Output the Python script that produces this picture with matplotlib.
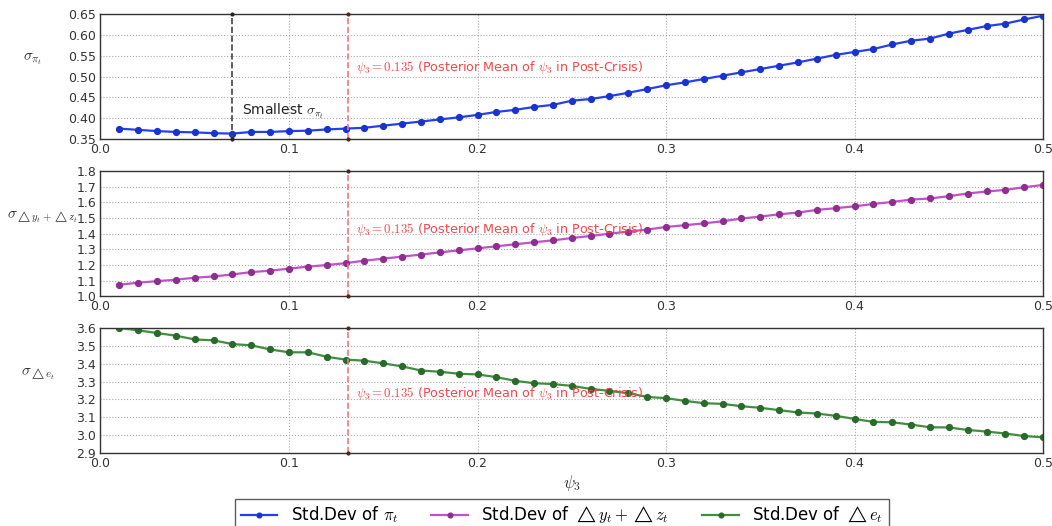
import numpy as np
import matplotlib
matplotlib.use('Agg')
import matplotlib.pyplot as plt

plt.rcParams['mathtext.fontset'] = 'cm'
plt.rcParams['font.family'] = 'DejaVu Sans'

# grid of psi_3 values
psi3 = np.round(np.arange(1, 51) * 0.01, 2)

# std dev of inflation
sd_pi = [0.375, 0.372, 0.369, 0.367, 0.366, 0.364, 0.363, 0.367, 0.367, 0.369,
         0.370, 0.373, 0.375, 0.377, 0.382, 0.387, 0.392, 0.397, 0.402, 0.408,
         0.415, 0.420, 0.427, 0.432, 0.442, 0.446, 0.453, 0.461, 0.470, 0.479,
         0.486, 0.494, 0.502, 0.510, 0.518, 0.526, 0.534, 0.543, 0.552, 0.559,
         0.566, 0.577, 0.586, 0.591, 0.603, 0.612, 0.621, 0.627, 0.637, 0.646]

# std dev of output growth + z growth
sd_yz = [1.073, 1.086, 1.096, 1.105, 1.118, 1.126, 1.139, 1.154, 1.163, 1.176,
         1.189, 1.199, 1.211, 1.227, 1.240, 1.253, 1.266, 1.280, 1.293, 1.306,
         1.319, 1.332, 1.345, 1.357, 1.372, 1.385, 1.400, 1.413, 1.426, 1.443,
         1.454, 1.466, 1.479, 1.497, 1.509, 1.524, 1.535, 1.552, 1.563, 1.575,
         1.590, 1.603, 1.618, 1.625, 1.640, 1.657, 1.670, 1.680, 1.697, 1.712]

# std dev of exchange rate growth
sd_e = [3.600, 3.587, 3.572, 3.557, 3.536, 3.531, 3.510, 3.503, 3.480, 3.464,
        3.464, 3.439, 3.423, 3.417, 3.402, 3.385, 3.362, 3.355, 3.344, 3.340,
        3.325, 3.304, 3.291, 3.286, 3.276, 3.259, 3.248, 3.235, 3.214, 3.207,
        3.192, 3.179, 3.175, 3.162, 3.153, 3.140, 3.127, 3.121, 3.108, 3.091,
        3.074, 3.072, 3.059, 3.044, 3.043, 3.029, 3.020, 3.009, 2.995, 2.988]

psi_post = 0.1315   # where the posterior-mean line sits on the plot

fig = plt.figure(figsize=(10.52, 5.26), dpi=100)

panels = [
    dict(y=sd_pi, lim=(0.35, 0.65), ticks=np.arange(0.35, 0.651, 0.05), fmt='%.2f',
         lc='#2440ee', mc='#1a33cc', lab='Std.Dev of $\\pi_t$',
         ylab=r'$\sigma_{\pi_t}$', bottom=0.7357, ty=0.521, lx=-0.072, ly=0.58),
    dict(y=sd_yz, lim=(1.0, 1.8), ticks=np.arange(1.0, 1.801, 0.1), fmt='%.1f',
         lc='#c050cc', mc='#8e2e8e', lab=r'Std.Dev of $\triangle y_t+\triangle z_t$',
         ylab=r'$\sigma_{\triangle y_t+\triangle z_t}$', bottom=0.437, ty=1.428, lx=-0.062, ly=0.57),
    dict(y=sd_e, lim=(2.9, 3.6), ticks=np.arange(2.9, 3.601, 0.1), fmt='%.1f',
         lc='#3f8f3f', mc='#2a6a2a', lab=r'Std.Dev of $\triangle e_t$',
         ylab=r'$\sigma_{\triangle e_t}$', bottom=0.1388, ty=3.235, lx=-0.066, ly=0.57),
]

handles = []
for i, p in enumerate(panels):
    ax = fig.add_axes([0.0955, p['bottom'], 0.896, 0.2376])
    h, = ax.plot(psi3, p['y'], '-o', color=p['lc'], lw=1.6, ms=4.2,
                 mfc=p['mc'], mec=p['mc'], label=p['lab'])
    handles.append(h)
    lo, hi = p['lim']
    ax.set_xlim(0, 0.5)
    ax.set_ylim(lo, hi)
    ax.set_xticks([0.0, 0.1, 0.2, 0.3, 0.4, 0.5])
    ax.set_xticklabels(['0.0', '0.1', '0.2', '0.3', '0.4', '0.5'])
    ax.set_yticks(p['ticks'])
    ax.set_yticklabels([p['fmt'] % t for t in p['ticks']])
    ax.tick_params(labelsize=9, direction='in', length=0, pad=3, colors='#333333')
    ax.grid(True, ls=':', color='#aaaaaa', lw=0.8)
    for s in ax.spines.values():
        s.set_color('#333333')
        s.set_linewidth(1.0)

    # posterior mean line
    ax.plot([psi_post, psi_post], [lo, hi], '--', color='#f07a7a', lw=1.2,
            marker='.', ms=4, mfc='#552222', mec='#552222', clip_on=False, zorder=4)
    ax.text(psi_post + 0.004, p['ty'],
            r'$\psi_3 = 0.135$ (Posterior Mean of $\psi_3$ in Post-Crisis)',
            color='#f04848', fontsize=9.2, va='center')

    ax.set_ylabel(p['ylab'], rotation=0, fontsize=11, color='#333333')
    ax.yaxis.set_label_coords(p['lx'], p['ly'])

    if i == 0:
        xmin = psi3[int(np.argmin(sd_pi))]
        ax.plot([xmin, xmin], [lo, hi], '--', color='#444444', lw=1.2,
                marker='.', ms=4, mfc='#222222', mec='#222222', clip_on=False, zorder=4)
        ax.text(xmin + 0.005, 0.415, r'Smallest $\sigma_{\pi_t}$',
                fontsize=10, color='#222222', va='center')
    if i == 2:
        ax.set_xlabel(r'$\psi_3$', fontsize=12, color='#333333', labelpad=2)

leg = fig.legend(handles=handles, loc='upper center', bbox_to_anchor=(0.534, 0.068),
                 ncol=3, fontsize=12, frameon=True, fancybox=False,
                 edgecolor='#333333', handlelength=2.2, columnspacing=2.0,
                 borderpad=0.35, markerscale=0.8)
leg.get_frame().set_linewidth(1.0)

fig.savefig('out.png', dpi=100)
